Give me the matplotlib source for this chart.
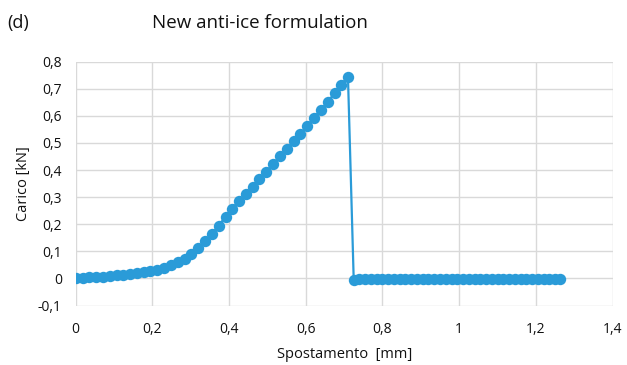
import matplotlib
matplotlib.use("Agg")
import matplotlib.pyplot as plt
from matplotlib.ticker import FuncFormatter

plt.rcParams['font.family'] = ['Open Sans', 'DejaVu Sans']

# Rising branch (displacement mm, load kN)
x_rise = [0.000, 0.018, 0.036, 0.053, 0.071, 0.089, 0.107, 0.124, 0.142, 0.160,
          0.178, 0.195, 0.213, 0.231, 0.249, 0.266, 0.284, 0.302, 0.320, 0.337,
          0.355, 0.373, 0.391, 0.408, 0.426, 0.444, 0.462, 0.479, 0.497, 0.515,
          0.533, 0.550, 0.568, 0.586, 0.604, 0.621, 0.639, 0.657, 0.675, 0.692,
          0.710]
y_rise = [0.000, 0.002, 0.004, 0.005, 0.007, 0.010, 0.012, 0.014, 0.016, 0.019,
          0.022, 0.027, 0.032, 0.039, 0.048, 0.059, 0.073, 0.090, 0.112, 0.137,
          0.165, 0.195, 0.228, 0.258, 0.286, 0.312, 0.338, 0.366, 0.394, 0.423,
          0.451, 0.478, 0.506, 0.534, 0.563, 0.593, 0.622, 0.652, 0.683, 0.714,
          0.745]
# After failure
x_tail = [0.725, 0.740, 0.755, 0.770, 0.785, 0.800, 0.815, 0.830, 0.845, 0.860,
          0.875, 0.890, 0.905, 0.920, 0.935, 0.950, 0.965, 0.980, 0.995, 1.010,
          1.025, 1.040, 1.055, 1.070, 1.085, 1.100, 1.115, 1.130, 1.145, 1.160,
          1.175, 1.190, 1.205, 1.220, 1.235, 1.250, 1.262]
y_tail = [-0.006, -0.003, -0.002, -0.002, -0.002, -0.002, -0.002, -0.002, -0.002, -0.002,
          -0.002, -0.002, -0.002, -0.002, -0.002, -0.002, -0.002, -0.002, -0.002, -0.002,
          -0.002, -0.002, -0.002, -0.002, -0.002, -0.002, -0.002, -0.002, -0.002, -0.002,
          -0.002, -0.002, -0.002, -0.002, -0.002, -0.002, -0.002]

x_ticks = [0, 0.2, 0.4, 0.6, 0.8, 1.0, 1.2, 1.4]
y_ticks = [-0.1, 0, 0.1, 0.2, 0.3, 0.4, 0.5, 0.6, 0.7, 0.8]

xs = x_rise + x_tail
ys = y_rise + y_tail

fig = plt.figure(figsize=(6.27, 3.65), dpi=100)
ax = fig.add_axes([0.1207, 0.163, 0.8563, 0.668])
color = '#2a9bd8'
ax.plot(xs, ys, color=color, lw=1.6, marker='o', markersize=8.2,
        markeredgewidth=0, zorder=3)

ax.set_xlim(0, 1.4)
ax.set_ylim(-0.1, 0.8)
ax.set_xticks(x_ticks)
ax.set_yticks(y_ticks)

def fmt(v, pos):
    s = f"{v:.1f}".rstrip('0').rstrip('.')
    if s in ('-0',):
        s = '0'
    return s.replace('.', ',')

ax.xaxis.set_major_formatter(FuncFormatter(fmt))
ax.yaxis.set_major_formatter(FuncFormatter(fmt))
for s in ax.spines.values():
    s.set_visible(False)
ax.grid(True, color='#d9d9d9', lw=1.0)
ax.set_axisbelow(True)
ax.tick_params(axis='y', length=0, labelsize=10, colors='#111111', pad=10)
ax.tick_params(axis='x', length=0, labelsize=10, colors='#111111', pad=12)

ax.set_xlabel('Spostamento  [mm]', fontsize=10.5, labelpad=7, color='#111111')
ax.set_ylabel('Carico [kN]', fontsize=10.5, labelpad=5, color='#111111')
fig.text(0.415, 0.937, 'New anti-ice formulation', ha='center', va='center',
         fontsize=13.5, color='#111111')
fig.text(0.012, 0.937, '(d)', ha='left', va='center', fontsize=13, color='#111111')

fig.savefig('out.png', dpi=100)
